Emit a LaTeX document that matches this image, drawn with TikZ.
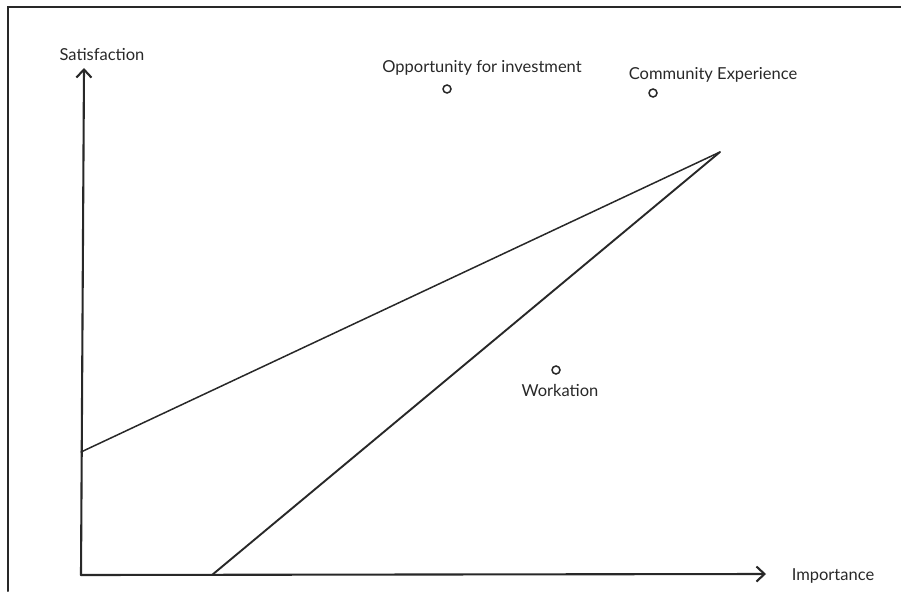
\documentclass[tikz,border=0pt]{standalone}
\usepackage{fontspec}
\setmainfont{Lato}
\usetikzlibrary{arrows.meta, positioning}
\definecolor{inkgray}{RGB}{40,40,40}

\begin{document}
\begin{tikzpicture}[x=1pt, y=-1pt, line cap=round,
  label/.style={inkgray, font=\fontsize{16.5}{18}\selectfont},
  dot/.style={circle, draw=inkgray, line width=1.5pt, minimum size=8pt, inner sep=0pt}]
  \useasboundingbox (0,0) rectangle (901,591);
  % frame
  \draw[inkgray, line width=2pt] (901,7) -- (8,7) -- (8,591);
  % axes
  \coordinate (origin) at (81,575);
  \coordinate (ytip) at (84,68);
  \coordinate (xtip) at (766,574);
  \draw[inkgray, line width=2.1pt, -{Straight Barb[length=8pt, width=15pt]}] (origin) -- (ytip);
  \draw[inkgray, line width=2.1pt, -{Straight Barb[length=8pt, width=15pt]}] (origin) -- (xtip);
  \node[label] (sat) at (102,55) {Satisfaction};
  \node[label] (imp) at (833,576) {Importance};
  % bounds
  \coordinate (apex) at (720,152);
  \coordinate (upstart) at (81,452);
  \coordinate (lowstart) at (212,575);
  \draw[inkgray, line width=1.5pt] (upstart) -- (apex);
  \draw[inkgray, line width=1.9pt] (lowstart) -- (apex);
  % items
  \node[dot] (opp) at (447,89) {};
  \node[label] (opplab) at (482,68) {Opportunity for investment};
  \node[dot] (com) at (653,93) {};
  \node[label] (comlab) at (713,75) {Community Experience};
  \node[dot] (work) at (556,370) {};
  \node[label] (worklab) at (560,390) {Workation};
\end{tikzpicture}
\end{document}
